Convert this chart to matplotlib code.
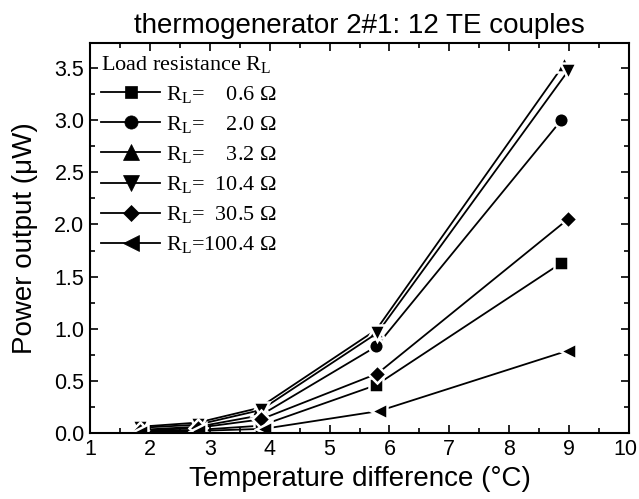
"""Power output vs temperature difference for thermogenerator 2#1."""

import matplotlib

matplotlib.use("Agg")
import matplotlib.pyplot as plt  # noqa: E402
from matplotlib.ticker import MultipleLocator  # noqa: E402
from matplotlib.transforms import ScaledTranslation  # noqa: E402

# series data
loads = ["0.6", "2.0", "3.2", "10.4", "30.5", "100.4"]
markers = ["s", "o", "^", "v", "D", "<"]
marker_sizes = [9.5, 10.5, 12, 12, 9, 12]

dt_06 = [1.83, 2.8, 3.85, 5.78, 8.87]
p_06 = [0.02, 0.03, 0.07, 0.46, 1.63]

dt_20 = [1.83, 2.8, 3.85, 5.78, 8.87]
p_20 = [0.03, 0.06, 0.17, 0.83, 3.0]

dt_32 = [1.83, 2.8, 3.82, 5.78, 8.92]
p_32 = [0.06, 0.1, 0.24, 0.99, 3.54]

dt_104 = [1.83, 2.8, 3.85, 5.8, 8.98]
p_104 = [0.05, 0.08, 0.22, 0.96, 3.47]

dt_305 = [1.83, 2.8, 3.85, 5.8, 8.98]
p_305 = [0.02, 0.05, 0.13, 0.57, 2.05]

dt_1004 = [1.83, 2.8, 3.9, 5.82, 8.98]
p_1004 = [0.01, 0.02, 0.04, 0.21, 0.79]

series_x = [dt_06, dt_20, dt_32, dt_104, dt_305, dt_1004]
series_y = [p_06, p_20, p_32, p_104, p_305, p_1004]

SANS = ["Liberation Sans", "DejaVu Sans"]
SERIF = ["Liberation Serif", "DejaVu Serif"]

plt.rcParams["font.family"] = SANS
plt.rcParams["mathtext.fontset"] = "custom"
plt.rcParams["mathtext.rm"] = "Liberation Serif"

fig = plt.figure(figsize=(6.39, 4.99), dpi=100)
ax = fig.add_axes([90 / 639, 66 / 499, 539 / 639, 390 / 499])

for xs, ys, mk, ms, load in zip(series_x, series_y, markers, marker_sizes, loads):
    pad = " " * (2 * (5 - len(load)))
    ax.plot(xs, ys, color="black", lw=1.3, marker=mk, ms=ms,
            mfc="black", mec="white", mew=1.8,
            label=f"R$_\\mathregular{{L}}$={pad}{load} Ω")

ax.set_xlim(1, 10)
ax.set_ylim(0, 3.74)
ax.xaxis.set_major_locator(MultipleLocator(1))
ax.xaxis.set_minor_locator(MultipleLocator(0.5))
ax.yaxis.set_major_locator(MultipleLocator(0.5))
ax.yaxis.set_minor_locator(MultipleLocator(0.25))
ax.yaxis.set_major_formatter(plt.FormatStrFormatter("%.1f"))
ax.tick_params(which="both", direction="in", top=True, right=True, width=1.2,
               labelsize=15.5, pad=4)
ax.tick_params(which="major", length=6)
ax.tick_params(which="minor", length=3.5)
for spine in ax.spines.values():
    spine.set_linewidth(1.5)

ax.set_xlabel("Temperature difference (°C)", fontsize=20, labelpad=5)
ax.set_ylabel("Power output (μW)", fontsize=20, labelpad=12)
ax.set_title("thermogenerator 2#1: 12 TE couples", fontsize=20, pad=7)

# legend: black-edged markers on the handles, serif text
leg = ax.legend(
    title="Load resistance R$_\\mathregular{L}$",
    loc="upper left", frameon=False, handlelength=2.65, handletextpad=0.25,
    labelspacing=0.38, borderaxespad=0.2, borderpad=0.3,
    prop={"family": SERIF, "size": 16}, alignment="left",
)
leg.get_title().set_fontfamily(SERIF)
leg.get_title().set_fontsize(16)
for lh, ms in zip(leg.legend_handles, marker_sizes):
    lh.set_markeredgecolor("black")
    lh.set_markeredgewidth(0.5)
    lh.set_markersize(ms - 1)

# keep the "10" at the right edge inside the canvas
fig.canvas.draw()
for tick in ax.xaxis.get_major_ticks():
    if tick.label1.get_text() == "10":
        tick.label1.set_transform(
            tick.label1.get_transform() + ScaledTranslation(-4 / 100, 0, fig.dpi_scale_trans))

fig.savefig("out.png", dpi=100)
